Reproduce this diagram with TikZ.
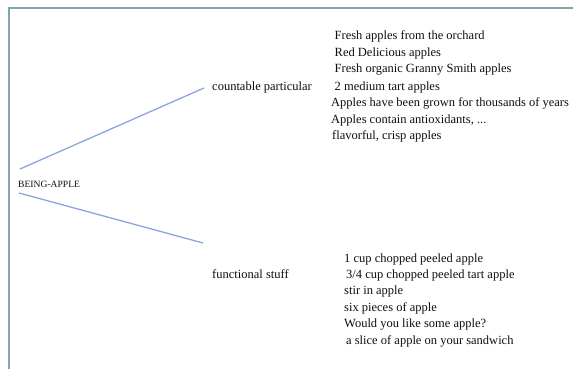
\documentclass[tikz,border=0pt]{standalone}
\usepackage{fontspec}
\setmainfont{Liberation Serif}
\definecolor{frame}{RGB}{128,168,172}
\definecolor{link}{RGB}{140,165,220}
\definecolor{ink}{RGB}{15,15,15}
\begin{document}
\begin{tikzpicture}[x=1pt,y=-1pt,
  lbl/.style={anchor=base west,inner sep=0pt,text=ink,font=\fontsize{12.5}{15}\selectfont},
  rootlbl/.style={anchor=base west,inner sep=0pt,text=ink,font=\fontsize{9.6}{11}\selectfont},
  conn/.style={draw=link,line width=1.3pt},
  frameline/.style={draw=frame,line width=2pt}]
\useasboundingbox (0,0) rectangle (573,369);
\draw[frameline] (8.5,369) -- (8.5,8.5) -- (573,8.5);
\node[rootlbl] (root) at (18,187.5) {BEING-APPLE};
\node[lbl] (count) at (212,90) {countable particular};
\node[lbl] (func) at (212,278) {functional stuff};
\coordinate (r1) at (20,169);
\coordinate (c1) at (204,88);
\coordinate (r2) at (19,193);
\coordinate (f1) at (203,243);
\draw[conn] (r1) -- (c1);
\draw[conn] (r2) -- (f1);
% countable examples
\node[lbl] (a1) at (334.5,40) {Fresh apples from the orchard};
\node[lbl] (a2) at (334.5,56.5) {Red Delicious apples};
\node[lbl] (a3) at (334.5,73) {Fresh organic Granny Smith apples};
\node[lbl] (a4) at (334.5,90) {2 medium tart apples};
\node[lbl] (a5) at (331,106.5) {Apples have been grown for thousands of years};
\node[lbl] (a6) at (331,123) {Apples contain antioxidants, ...};
\node[lbl] (a7) at (332,139.5) {flavorful, crisp apples};
% functional examples
\node[lbl] (b1) at (344,262) {1 cup chopped peeled apple};
\node[lbl] (b2) at (346,278) {3/4 cup chopped peeled tart apple};
\node[lbl] (b3) at (344,294.5) {stir in apple};
\node[lbl] (b4) at (344,311) {six pieces of apple};
\node[lbl] (b5) at (344,327.5) {Would you like some apple?};
\node[lbl] (b6) at (346,344) {a slice of apple on your sandwich};
\end{tikzpicture}
\end{document}
